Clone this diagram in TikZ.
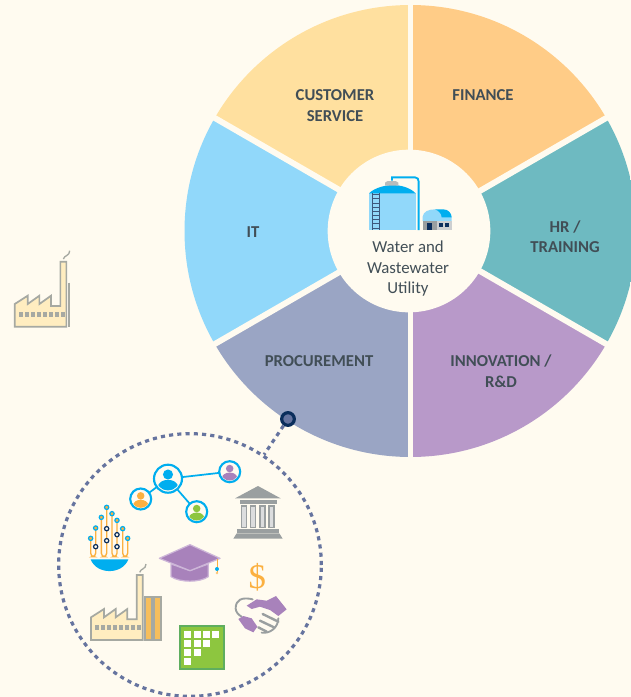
\documentclass[tikz,border=0pt]{standalone}
\usepackage{fontspec}
\setmainfont{Carlito}
\newfontfamily\dollarfont{Liberation Serif}
\definecolor{bgc}{HTML}{FFFBF0}
\definecolor{wCust}{HTML}{FFE09F}
\definecolor{wFin}{HTML}{FFCC87}
\definecolor{wHR}{HTML}{6EBAC1}
\definecolor{wInn}{HTML}{B899C9}
\definecolor{wPro}{HTML}{9AA5C4}
\definecolor{wIT}{HTML}{91D8FA}
\definecolor{ink}{HTML}{414E56}
\definecolor{cyanc}{HTML}{00AEEF}
\definecolor{navyc}{HTML}{0B2E5C}
\definecolor{dotc}{HTML}{66749F}
\definecolor{grayc}{HTML}{9A9FA0}
\definecolor{facline}{HTML}{A6A9A2}
\definecolor{facfill}{HTML}{FFEDC0}
\definecolor{orangec}{HTML}{FBB040}
\definecolor{barc}{HTML}{F6BE5C}
\definecolor{purplec}{HTML}{A882BB}
\definecolor{purplel}{HTML}{CDB6D8}
\definecolor{greenc}{HTML}{8DC63F}
\definecolor{greenl}{HTML}{5FAE5F}
\tikzset{
  wlabel/.style={font=\fontsize{12.5}{15.4}\selectfont\bfseries,text=ink,align=center,inner sep=0pt},
  hubtext/.style={font=\fontsize{12.6}{15.6}\selectfont,text=ink,align=center,inner sep=0pt},
  dotted line/.style={draw=dotc,line width=2.4pt,dash pattern=on 3.1pt off 3.1pt},
  zcoords/.style={shift={#1},x=0.25pt,y=-0.25pt},
  peer/.style={circle,draw=cyanc,fill=bgc,line width=1.6pt,inner sep=0pt},
  tube/.style={draw=orangec,line width=1pt,rounded corners=2.6pt},
  ringdot/.style={circle,draw=cyanc,fill=orangec,line width=0.9pt,inner sep=0pt,minimum size=3.2pt},
  navydot/.style={circle,draw=navyc,fill=bgc,line width=0.9pt,inner sep=0pt,minimum size=3.2pt},
}
% name, x, y, radius in px, colour
\newcommand\personicon[5]{%
  \node[peer,minimum size={#4*1.5pt}] (#1) at (#2,#3) {};
  \begin{scope}[shift={(#2,#3)}]
    \clip (0,0) circle[radius=#4*0.84];
    \fill[#5] (0,-#4*0.3) circle[radius=#4*0.36];
    \fill[#5] (0,#4*0.58) ellipse[x radius=#4*0.72,y radius=#4*0.5];
  \end{scope}}
% factory in zoom coordinates of the third crop
\newcommand\factorybody{%
  \draw[facline,fill=facfill,line width=1.3pt,line join=miter]
    (63,300)--(63,232)--(102,207)--(102,232)--(137,207)--(137,232)--(172,207)--(172,238)--(200,238)--(200,105)--(218,105)--(218,300)--cycle;
  \foreach \k in {0,...,7}{\fill[facline] (76+\k*17.8,255) rectangle ++(12,15);}
  \draw[facline,line width=1pt] (209,97) .. controls (212,85) and (228,88) .. (228,72);}
\begin{document}
\begin{tikzpicture}[x=0.75pt,y=-0.75pt]
\useasboundingbox (0,0) rectangle (631,697);
\fill[bgc] (0,0) rectangle (631,697);
\clip (0,0) rectangle (631,697);
% wheel
\begin{scope}[shift={(410.5,231)}]
  \begin{scope}
    \clip (0,0) circle[radius=226];
    \foreach \a/\b/\c in {-90/-30/wFin,-30/30/wHR,30/90/wInn,90/150/wPro,150/210/wIT,210/270/wCust}
      \fill[\c] (0,0)--(\a:420)--(\b:420)--cycle;
  \end{scope}
  \foreach \a in {-90,-30,30,90,150,210}
    \draw[bgc,line width=4.4pt] (0,0)--(\a:240);
\end{scope}
\node[circle,fill=bgc,inner sep=0pt,minimum size=122pt] (hub) at (409,231) {};
% labels
\node[wlabel] (lCust) at (335,105.8) {CUSTOMER\\SERVICE};
\node[wlabel] (lFin) at (483,95.3) {FINANCE};
\node[wlabel] (lHR) at (565,236.8) {HR /\\TRAINING};
\node[wlabel] (lInn) at (501,371) {INNOVATION /\\R\&D};
\node[wlabel] (lPro) at (319,361.3) {PROCUREMENT};
\node[wlabel] (lIT) at (253,232.3) {IT};
\node[hubtext] (lHub) at (408,268.7) {Water and\\Wastewater\\Utility};
% tank icon
\begin{scope}[zcoords={(320,150)}]
  \fill[wIT] (147,128) rectangle (287,240);
  \fill[cyanc] (147,130) .. controls (165,112) and (200,105) .. (217,105) .. controls (240,105) and (270,112) .. (287,130) -- cycle;
  \fill[grayc!70] (195,107) -- (195,98) -- (203,93) -- (227,93) -- (235,98) -- (235,107) -- cycle;
  \draw[cyanc,line width=1.4pt] (216,92) -- (216,82) -- (285,82) .. controls (293,82) and (296,88) .. (296,95) -- (296,240);
  \draw[navyc!80,line width=0.6pt] (158,128)--(158,240) (178,128)--(178,240);
  \foreach \k in {0,...,8}{\draw[navyc!80,line width=0.6pt] (158,134+\k*12.5)--(178,134+\k*12.5);}
  \fill[wIT] (308,213) -- (308,200) .. controls (310,185) and (325,178) .. (345,178) -- (395,200) -- (395,213) -- cycle;
  \fill[cyanc] (345,178) -- (370,178) .. controls (385,178) and (395,190) .. (395,202) -- (365,202) .. controls (365,190) and (355,182) .. (345,178) -- cycle;
  \fill[grayc] (308,213) rectangle (350,240);
  \fill[grayc!50] (350,213) rectangle (395,240);
  \fill[navyc] (320,218) rectangle (337,240);
  \fill[navyc] (357,218) rectangle (368,230);
  \fill[navyc] (375,218) rectangle (387,230);
\end{scope}
% left factory
\begin{scope}[zcoords={(-6.3,226.7)}]
  \factorybody
  \draw[facline,line width=1pt] (226,168)--(226,300);
\end{scope}
% zone and connector
\node[circle,minimum size=197pt,inner sep=0pt,dotted line] (zone) at (190,565) {};
\node[circle,draw=navyc,fill=dotc,line width=2.4pt,inner sep=0pt,minimum size=9.5pt] (pin) at (288,419) {};
\draw[dotted line] (pin) -- (zone);
% people network
\draw[cyanc,line width=1.3pt] (168,478.7) -- (140.7,499) (168,478.7) -- (229.7,471.7) (168,478.7) -- (196.7,511.7);
\personicon{pBig}{168}{478.7}{14}{cyanc}
\personicon{pOr}{140.7}{499}{10.5}{orangec}
\personicon{pPu}{229.7}{471.7}{10.5}{purplec}
\personicon{pGr}{196.7}{511.7}{10.5}{greenc}
% zoomed crop 2 icons
\begin{scope}[zcoords={(50,400)}]
  % bank
  \fill[grayc] (624,258) -- (692,295) -- (555,295) -- cycle;
  \fill[grayc] (570,300) rectangle (680,312);
  \foreach \xx in {575,602,630,657}{\draw[grayc,fill=grayc!35,line width=0.9pt] (\xx,318) rectangle ++(15,64);}
  \fill[grayc] (560,388) rectangle (688,400);
  \fill[grayc] (560,400) -- (688,400) -- (698,416) -- (550,416) -- cycle;
  % fountain tubes
  \foreach \p/\q/\ha/\hb in {122/137/415/384,154/170/352/322,186/201/341/361,218/233/386/415}
    \draw[tube] (\p,\ha) -- (\p,470) -- (\q,470) -- (\q,\hb);
  \foreach \p/\q in {122/415,137/384,154/352,170/322,186/341,201/361,218/386,233/415}
    \node[ringdot] at (\p,\q) {};
  \foreach \p/\q in {137/440,170/386,170/422,201/404,201/440}
    \node[navydot] at (\p,\q) {};
\end{scope}
% zoomed crop 3 icons
\begin{scope}[zcoords={(70,540)}]
  % bowl
  \fill[cyanc] (62,58) .. controls (80,105) and (157,105) .. (175,58) -- cycle;
  % graduation cap
  \draw[purplel,fill=purplec,line width=0.9pt,line join=round] (303,72) -- (303,110) .. controls (330,128) and (390,128) .. (415,110) -- (415,72) -- (360,92) -- cycle;
  \draw[purplel,fill=purplec,line width=0.9pt,line join=round] (268,55) -- (360,14) -- (450,55) -- (360,92) -- cycle;
  \draw[orangec,line width=0.7pt] (441,58) -- (441,100);
  \fill[cyanc] (441,87) circle[radius=6];
  \fill[orangec!70] (441,99) circle[radius=4];
  % factory
  \factorybody
  \draw[facline,fill=barc,line width=1.3pt] (226,170) rectangle (246,300);
  \draw[facline,fill=barc,line width=1.3pt] (252,170) rectangle (273,300);
  % table
  \draw[greenl,fill=greenc,line width=1.3pt] (329,258) rectangle (462,388);
  \foreach \xx/\yy in {342/273,372/273,399/273,426/273,342/300,372/300,399/300,342/327,372/327,342/354}
    \fill[white] (\xx,\yy) rectangle ++(21,21);
  % dollar
  \node[text=orangec,inner sep=0pt,font=\dollarfont\fontsize{26}{26}\selectfont] (dollar) at (562,112) {\$};
  % handshake
  \draw[grayc,line width=1.4pt,line cap=round] (548,178) .. controls (515,170) and (497,180) .. (497,205) .. controls (497,215) and (505,225) .. (515,230);
  \draw[grayc,line width=1.8pt,line cap=round] (578,222) -- (625,245) (570,242) -- (612,262) (565,262) -- (590,275);
  \draw[grayc,line width=1.4pt,line cap=round] (625,235) .. controls (625,262) and (600,282) .. (575,278);
  \fill[purplec] (530,197) -- (560,178) -- (590,182) -- (618,168) -- (650,208) -- (625,228) -- (600,210) -- (570,200) -- (545,207) -- cycle;
  \fill[purplec] (505,237) -- (520,228) -- (545,235) -- (562,260) -- (550,277) -- (525,265) -- cycle;
\end{scope}
\end{tikzpicture}
\end{document}
